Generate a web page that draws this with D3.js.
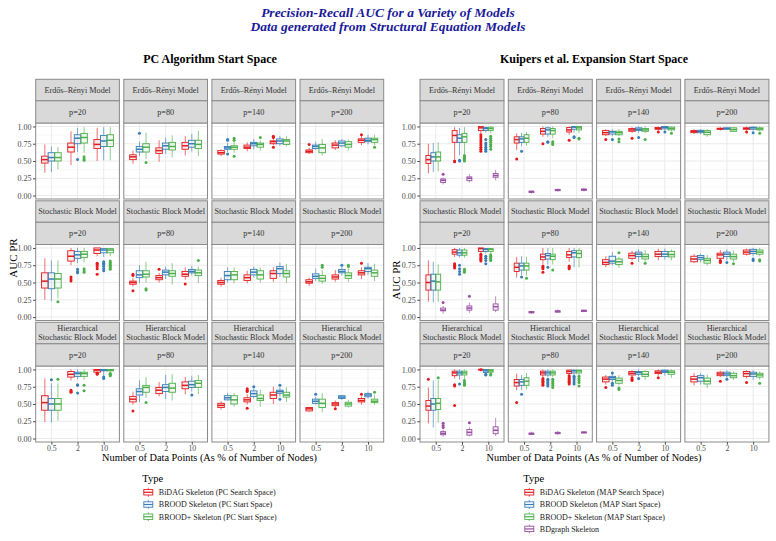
<!DOCTYPE html>
<html>
<head>
<meta charset="utf-8">
<script src="https://cdn.jsdelivr.net/npm/d3@7"></script>
<style>
  body { margin: 0; background: #fff; }
  svg text { font-family: "Liberation Serif", "Times New Roman", serif; }
</style>
</head>
<body>
<div id="chart"></div>
<script>
// ---- data ----
const xLevels = ["0.5", "2", "10"];
const pLevels = [20, 80, 140, 200];
const modelLabels = [["Erdős–Rényi Model"], ["Stochastic Block Model"], ["Hierarchical", "Stochastic Block Model"]];
const colors = ["#E41A1C", "#377EB8", "#4DAF4A", "#984EA3"];

const pcTypes = ["BiDAG Skeleton (PC Search Space)", "BROOD Skeleton (PC Start Space)", "BROOD+ Skeleton (PC Start Space)"];
const kuTypes = ["BiDAG Skeleton (MAP Search Space)", "BROOD Skeleton (MAP Start Space)", "BROOD+ Skeleton (MAP Start Space)", "BDgraph Skeleton"];

// rows: [p, x, type, lower whisker, q1, median, q3, upper whisker, outliers]
const pcER = [
  [20,"0.5",0,.33,.47,.52,.57,.74],[20,"0.5",1,.34,.50,.55,.62,.71],[20,"0.5",2,.38,.50,.55,.62,.70],
  [20,"2",0,.44,.63,.70,.76,.93],[20,"2",1,.63,.75,.83,.88,.98,[.52]],[20,"2",2,.62,.76,.84,.90,.99,[.56,.53,.51]],
  [20,"10",0,.50,.68,.74,.81,.98],[20,"10",1,.51,.71,.79,.87,.99],[20,"10",2,.51,.71,.80,.88,.99],
  [80,"0.5",0,.46,.52,.56,.59,.65],[80,"0.5",1,.57,.63,.67,.71,.78,[.90]],[80,"0.5",2,.53,.63,.70,.75,.91,[.48]],
  [80,"2",0,.49,.61,.65,.69,.80],[80,"2",1,.60,.67,.72,.76,.84],[80,"2",2,.55,.66,.71,.77,.87],
  [80,"10",0,.58,.67,.72,.77,.86],[80,"10",1,.64,.70,.75,.80,.89],[80,"10",2,.57,.68,.74,.80,.94],
  [140,"0.5",0,.57,.60,.62,.65,.67],[140,"0.5",1,.63,.67,.69,.71,.76,[.81,.80,.60]],[140,"0.5",2,.62,.67,.70,.72,.78,[.83,.80,.57]],
  [140,"2",0,.64,.68,.70,.73,.77],[140,"2",1,.67,.72,.75,.77,.82],[140,"2",2,.65,.70,.74,.76,.80,[.84]],
  [140,"10",0,.73,.75,.78,.79,.82,[.86,.84,.70]],[140,"10",1,.72,.75,.79,.82,.86],[140,"10",2,.71,.74,.79,.81,.86],
  [200,"0.5",0,.60,.62,.64,.66,.69,[.74]],[200,"0.5",1,.66,.68,.71,.73,.78],[200,"0.5",2,.58,.62,.69,.74,.82],
  [200,"2",0,.66,.69,.73,.76,.80],[200,"2",1,.70,.72,.76,.79,.82],[200,"2",2,.65,.70,.74,.78,.81],
  [200,"10",0,.73,.77,.80,.82,.86,[.88]],[200,"10",1,.74,.78,.80,.83,.88],[200,"10",2,.73,.77,.81,.83,.88,[.70]]
];
const pcSBM = [
  [20,"0.5",0,.25,.42,.52,.64,.85],[20,"0.5",1,.23,.41,.55,.64,.82],[20,"0.5",2,.27,.42,.55,.63,.82,[.22]],
  [20,"2",0,.75,.81,.88,.96,1.0,[.58,.55,.52]],[20,"2",1,.78,.85,.90,.95,1.0,[.69,.66,.64]],[20,"2",2,.79,.86,.91,.95,1.0,[.70,.67,.65]],
  [20,"10",0,.88,.92,.97,1.0,1.0,[.78,.76,.73,.70,.62]],[20,"10",1,.87,.93,.97,.99,1.0,[.80,.78,.76,.73,.70,.67]],[20,"10",2,.88,.93,.97,.99,1.0,[.81,.79,.77,.75,.73,.71,.69]],
  [80,"0.5",0,.44,.475,.50,.52,.57,[.62,.60,.38]],[80,"0.5",1,.49,.57,.61,.67,.75],[80,"0.5",2,.50,.58,.62,.67,.80,[.41,.39]],
  [80,"2",0,.50,.54,.57,.60,.64,[.69]],[80,"2",1,.55,.61,.65,.68,.73],[80,"2",2,.47,.59,.63,.67,.78],
  [80,"10",0,.54,.59,.62,.66,.72,[.48]],[80,"10",1,.60,.64,.66,.69,.74],[80,"10",2,.49,.60,.64,.68,.73,[.82]],
  [140,"0.5",0,.44,.475,.50,.53,.57],[140,"0.5",1,.50,.54,.60,.66,.72],[140,"0.5",2,.49,.54,.61,.66,.72],
  [140,"2",0,.49,.53,.57,.61,.67],[140,"2",1,.57,.61,.65,.69,.73],[140,"2",2,.50,.55,.61,.67,.72],
  [140,"10",0,.51,.56,.63,.67,.72],[140,"10",1,.58,.63,.70,.73,.79],[140,"10",2,.49,.58,.63,.67,.77],
  [200,"0.5",0,.45,.49,.51,.54,.57],[200,"0.5",1,.52,.56,.59,.625,.70],[200,"0.5",2,.48,.52,.56,.60,.68,[.75,.72]],
  [200,"2",0,.51,.55,.58,.61,.68],[200,"2",1,.60,.64,.66,.69,.72,[.75]],[200,"2",2,.51,.56,.60,.64,.70,[.75,.73]],
  [200,"10",0,.55,.61,.64,.67,.72,[.78]],[200,"10",1,.61,.66,.70,.72,.78],[200,"10",2,.52,.59,.64,.68,.77]
];
const pcHSBM = [
  [20,"0.5",0,.24,.41,.52,.62,.87],[20,"0.5",1,.23,.41,.50,.58,.80,[.85]],[20,"0.5",2,.26,.41,.50,.58,.80,[.86]],
  [20,"2",0,.84,.89,.93,.97,1.0,[.70,.68,.67]],[20,"2",1,.86,.90,.94,.96,1.0,[.78,.77,.66]],[20,"2",2,.85,.90,.94,.96,1.0,[.77,.69]],
  [20,"10",0,.94,.96,.99,1.0,1.0,[.95,.94,.93]],[20,"10",1,.91,.98,.99,1.0,1.0,[.89,.87]],[20,"10",2,.95,.98,.99,1.0,1.0,[.94,.93,.92,.91]],
  [80,"0.5",0,.49,.53,.57,.61,.68,[.40]],[80,"0.5",1,.53,.63,.68,.72,.84],[80,"0.5",2,.59,.67,.74,.77,.89,[.52]],
  [80,"2",0,.61,.65,.70,.74,.82],[80,"2",1,.57,.68,.74,.78,.92],[80,"2",2,.55,.67,.73,.80,.93],
  [80,"10",0,.64,.72,.77,.82,.89],[80,"10",1,.68,.74,.78,.83,.91,[.63]],[80,"10",2,.64,.74,.80,.84,.92],
  [140,"0.5",0,.42,.45,.48,.51,.54],[140,"0.5",1,.55,.56,.59,.62,.66],[140,"0.5",2,.46,.50,.56,.62,.66],
  [140,"2",0,.49,.53,.56,.59,.64,[.72,.70,.68,.44]],[140,"2",1,.58,.61,.65,.69,.72,[.75]],[140,"2",2,.46,.55,.58,.63,.71],
  [140,"10",0,.50,.58,.63,.67,.75],[140,"10",1,.61,.655,.68,.70,.74,[.77,.57]],[140,"10",2,.53,.60,.63,.67,.74],
  [200,"0.5",0,.39,.40,.43,.45,.46],[200,"0.5",1,.49,.51,.54,.57,.60,[.64]],[200,"0.5",2,.38,.45,.51,.57,.66],
  [200,"2",0,.45,.475,.50,.52,.55,[.43]],[200,"2",1,.56,.58,.60,.62,.63],[200,"2",2,.45,.47,.50,.525,.56],
  [200,"10",0,.49,.53,.55,.58,.61,[.64]],[200,"10",1,.58,.605,.63,.65,.68],[200,"10",2,.49,.52,.54,.57,.63,[.67]]
];

const kuER = [
  [20,"0.5",0,.32,.465,.52,.58,.75],[20,"0.5",1,.34,.50,.56,.62,.76],[20,"0.5",2,.35,.50,.56,.63,.77],[20,"0.5",3,.16,.19,.22,.24,.26,[.31]],
  [20,"2",0,.52,.77,.87,.94,.99,[.50,.49]],[20,"2",1,.58,.77,.83,.88,.98,[.51,.50]],[20,"2",2,.60,.77,.85,.90,.99,[.58,.56,.54,.52,.50]],[20,"2",3,.19,.215,.25,.27,.31],
  [20,"10",0,.90,.94,.98,1.0,1.0,[.88,.85,.82,.79,.76,.73,.70,.67,.64]],[20,"10",1,.91,.94,.97,.985,1.0,[.81,.76,.73,.70,.67,.64]],[20,"10",2,.90,.94,.97,.99,1.0,[.86,.83,.80,.77,.74,.71,.67]],[20,"10",3,.22,.265,.29,.32,.37],
  [80,"0.5",0,.66,.76,.81,.85,.90,[.53]],[80,"0.5",1,.71,.77,.82,.85,.91,[.64]],[80,"0.5",2,.72,.77,.83,.88,.92],[80,"0.5",3,.03,.045,.055,.065,.07],
  [80,"2",0,.85,.89,.93,.97,1.0,[.75]],[80,"2",1,.85,.89,.95,.98,1.0,[.78,.77]],[80,"2",2,.83,.89,.94,.97,1.0,[.78,.76,.74]],[80,"2",3,.06,.07,.08,.09,.10],
  [80,"10",0,.88,.92,.95,.985,1.0,[.80]],[80,"10",1,.91,.96,.99,1.0,1.0,[.85,.84]],[80,"10",2,.90,.95,.98,1.0,1.0,[.83,.82]],[80,"10",3,.06,.075,.085,.095,.11],
  [140,"0.5",0,.86,.88,.91,.94,.96,[.81]],[140,"0.5",1,.86,.89,.92,.93,.96,[.81]],[140,"0.5",2,.86,.88,.91,.93,.96,[.82,.78]],
  [140,"2",0,.91,.93,.95,.97,.99,[.83]],[140,"2",1,.91,.94,.96,.98,1.0,[.84]],[140,"2",2,.90,.93,.95,.97,1.0,[.81]],
  [140,"10",0,.94,.96,.97,.985,1.0,[.92]],[140,"10",1,.94,.965,.985,1.0,1.0,[.92]],[140,"10",2,.93,.95,.97,.99,1.0,[.90]],
  [200,"0.5",0,.89,.91,.925,.94,.96],[200,"0.5",1,.89,.91,.93,.945,.96],[200,"0.5",2,.85,.88,.915,.94,.96],
  [200,"2",0,.94,.96,.965,.975,.99],[200,"2",1,.95,.96,.97,.98,.99],[200,"2",2,.92,.93,.955,.98,.99],
  [200,"10",0,.94,.96,.97,.98,1.0,[.92]],[200,"10",1,.94,.96,.98,.99,1.0,[.91]],[200,"10",2,.93,.95,.965,.98,1.0,[.90]]
];
const kuSBM = [
  [20,"0.5",0,.22,.39,.50,.61,.82],[20,"0.5",1,.21,.39,.52,.62,.80],[20,"0.5",2,.22,.39,.51,.62,.76],[20,"0.5",3,.05,.09,.10,.13,.16,[.21]],
  [20,"2",0,.87,.91,.94,.975,1.0,[.77,.75,.73,.71]],[20,"2",1,.86,.895,.93,.97,1.0,[.75,.70,.66,.62]],[20,"2",2,.86,.895,.93,.97,1.0,[.69,.67,.65]],[20,"2",3,.06,.10,.13,.16,.21,[.30]],
  [20,"10",0,.93,.95,.99,1.0,1.0,[.91,.89,.87,.85,.83,.81]],[20,"10",1,.92,.95,.98,.99,1.0,[.88,.85,.82,.77]],[20,"10",2,.92,.95,.98,.99,1.0,[.90,.88,.86,.84,.82]],[20,"10",3,.07,.10,.15,.19,.30],
  [80,"0.5",0,.57,.66,.72,.78,.87],[80,"0.5",1,.61,.68,.74,.78,.88,[.58]],[80,"0.5",2,.60,.68,.74,.78,.87,[.56]],[80,"0.5",3,.05,.06,.07,.08,.09],
  [80,"2",0,.77,.83,.87,.91,1.0,[.74,.72,.70,.65]],[80,"2",1,.76,.84,.89,.92,1.0,[.72]],[80,"2",2,.76,.83,.88,.91,1.0,[.68]],[80,"2",3,.06,.07,.085,.09,.11],
  [80,"10",0,.80,.86,.90,.95,1.0,[.74,.72,.70]],[80,"10",1,.72,.87,.93,.96,1.0],[80,"10",2,.72,.86,.92,.96,1.0],[80,"10",3,.07,.08,.09,.10,.11],
  [140,"0.5",0,.72,.76,.79,.83,.88],[140,"0.5",1,.75,.78,.81,.88,.94],[140,"0.5",2,.71,.76,.80,.84,.87,[.93]],
  [140,"2",0,.82,.85,.89,.925,.96,[.78]],[140,"2",1,.80,.875,.91,.94,.98],[140,"2",2,.80,.84,.875,.91,.97,[.78]],
  [140,"10",0,.82,.875,.91,.95,.99],[140,"10",1,.83,.875,.91,.95,.99],[140,"10",2,.82,.87,.905,.95,.98],
  [200,"0.5",0,.78,.80,.84,.88,.91],[200,"0.5",1,.79,.83,.86,.89,.92],[200,"0.5",2,.75,.78,.82,.85,.90],
  [200,"2",0,.83,.85,.90,.925,.97,[.82,.80,.79]],[200,"2",1,.82,.875,.91,.94,.98,[.79]],[200,"2",2,.80,.84,.875,.91,.96,[.77]],
  [200,"10",0,.89,.91,.94,.97,.99],[200,"10",1,.88,.92,.95,.98,1.0,[.84,.82]],[200,"10",2,.88,.91,.94,.97,1.0,[.83,.81]]
];
const kuHSBM = [
  [20,"0.5",0,.22,.41,.47,.55,.74,[.86]],[20,"0.5",1,.16,.41,.50,.58,.84],[20,"0.5",2,.23,.42,.51,.58,.85,[.88]],[20,"0.5",3,.03,.055,.075,.10,.13,[.22,.19,.16]],
  [20,"2",0,.87,.91,.95,.975,1.0,[.78,.76,.48]],[20,"2",1,.85,.92,.95,.975,1.0,[.79]],[20,"2",2,.86,.92,.95,.975,1.0,[.84,.81,.79,.77]],[20,"2",3,.03,.05,.09,.13,.17,[.23]],
  [20,"10",0,.99,1.0,1.0,1.0,1.0,[.995]],[20,"10",1,.94,.955,.98,1.0,1.0,[.93,.92]],[20,"10",2,.94,.96,.98,1.0,1.0,[.93,.92]],[20,"10",3,.04,.07,.12,.17,.30],
  [80,"0.5",0,.70,.76,.81,.855,.94,[.52]],[80,"0.5",1,.70,.77,.82,.855,.92,[.64]],[80,"0.5",2,.71,.77,.83,.88,.95],[80,"0.5",3,.05,.06,.07,.08,.10],
  [80,"2",0,.89,.92,.95,.975,1.0,[.87,.85,.83,.81,.79,.77]],[80,"2",1,.89,.92,.95,.975,1.0,[.86,.84,.81,.79,.76]],[80,"2",2,.89,.92,.95,.975,1.0,[.86,.83,.80,.77,.74]],[80,"2",3,.05,.07,.08,.09,.11],
  [80,"10",0,.92,.94,.97,.99,1.0,[.91,.89,.87,.85,.83,.81,.79]],[80,"10",1,.92,.95,.98,.99,1.0,[.90,.88,.85,.82,.79]],[80,"10",2,.92,.95,.98,.99,1.0,[.90,.87,.84,.81,.76]],[80,"10",3,.07,.08,.09,.095,.10],
  [140,"0.5",0,.78,.82,.86,.89,.92,[.74]],[140,"0.5",1,.82,.855,.88,.90,.93,[.95,.80,.77]],[140,"0.5",2,.77,.80,.84,.875,.92,[.73,.71]],
  [140,"2",0,.90,.92,.945,.97,.99,[.88,.86,.84]],[140,"2",1,.90,.93,.955,.97,1.0,[.87]],[140,"2",2,.85,.90,.93,.97,.99],
  [140,"10",0,.91,.94,.96,.98,1.0,[.88]],[140,"10",1,.91,.955,.975,.99,1.0],[140,"10",2,.88,.93,.96,.98,1.0],
  [200,"0.5",0,.77,.82,.86,.90,.95],[200,"0.5",1,.78,.83,.88,.91,.95],[200,"0.5",2,.73,.79,.83,.875,.93],
  [200,"2",0,.89,.91,.935,.96,.98,[.83]],[200,"2",1,.88,.91,.935,.96,.99,[.86]],[200,"2",2,.85,.88,.91,.945,.97],
  [200,"10",0,.87,.90,.94,.97,.99,[.81]],[200,"10",1,.85,.90,.935,.96,.99],[200,"10",2,.85,.89,.92,.945,.97,[.80]]
];

// ---- layout ----
const width = 776, height = 541;
const rowTop = [79.3, 200.8, 322.3];
const strip1H = 21.5, strip2H = 22.2, plotH = 76;
const borderCol = "#8a8a8a";
const serif = "'Liberation Serif', 'Times New Roman', serif";

const charts = [
  { left: 35.7, step: 88.1, pw: 83.7, title: "PC Algorithm Start Space", titleX: 210,
    ylabX: 13, ylabY: 258, xlabX: 209.5, legendX: 143.3, types: pcTypes, rows: [pcER, pcSBM, pcHSBM] },
  { left: 420, step: 88.3, pw: 84, title: "Kuipers et al. Expansion Start Space", titleX: 594,
    ylabX: 396, ylabY: 280, xlabX: 594, legendX: 524.3, types: kuTypes, rows: [kuER, kuSBM, kuHSBM] }
];

const svg = d3.select("#chart").append("svg")
  .attr("width", width).attr("height", height);

// main title
svg.append("text").attr("x", 388).attr("y", 16.5).attr("text-anchor", "middle")
  .attr("font-size", 13.5).attr("font-weight", "bold").attr("font-style", "italic").attr("fill", "#1a1a9a")
  .text("Precision-Recall AUC for a Variety of Models");
svg.append("text").attr("x", 388).attr("y", 30.5).attr("text-anchor", "middle")
  .attr("font-size", 13.5).attr("font-weight", "bold").attr("font-style", "italic").attr("fill", "#1a1a9a")
  .text("Data generated from Structural Equation Models");

const y = d3.scaleLinear().domain([-0.05, 1.05]).range([plotH, 0]);
const yMajor = [0, 0.25, 0.5, 0.75, 1];
const yMinor = [0.125, 0.375, 0.625, 0.875];

charts.forEach(ch => {
  const g = svg.append("g");

  g.append("text").attr("x", ch.titleX).attr("y", 63).attr("text-anchor", "middle")
    .attr("font-size", 12).attr("font-weight", "bold").attr("fill", "#000").text(ch.title);

  const xp = d3.scalePoint().domain(xLevels).range([0, ch.pw]).padding(0.6);
  const dodgeW = xp.step() * 0.75;

  ch.rows.forEach((data, r) => {
    pLevels.forEach((p, c) => {
      const px = ch.left + c * ch.step;
      const top = rowTop[r];
      const pTop = top + strip1H + strip2H;
      const panel = g.append("g").attr("transform", `translate(${px},${pTop})`);

      // strips
      g.append("rect").attr("x", px).attr("y", top).attr("width", ch.pw).attr("height", strip1H)
        .attr("fill", "#D9D9D9").attr("stroke", borderCol).attr("stroke-width", 1);
      g.append("rect").attr("x", px).attr("y", top + strip1H).attr("width", ch.pw).attr("height", strip2H)
        .attr("fill", "#D9D9D9").attr("stroke", borderCol).attr("stroke-width", 1);
      const lines = modelLabels[r];
      lines.forEach((ln, i) => {
        g.append("text").attr("x", px + ch.pw / 2)
          .attr("y", top + strip1H / 2 + (i - (lines.length - 1) / 2) * 9)
          .attr("dy", "0.35em").attr("text-anchor", "middle").attr("font-size", 8.2).attr("fill", "#333")
          .text(ln);
      });
      g.append("text").attr("x", px + ch.pw / 2).attr("y", top + strip1H + strip2H / 2)
        .attr("dy", "0.35em").attr("text-anchor", "middle").attr("font-size", 8.2).attr("fill", "#333")
        .text("p=" + p);

      // grid
      panel.selectAll(".minor").data(yMinor).enter().append("line")
        .attr("x1", 0).attr("x2", ch.pw).attr("y1", d => y(d)).attr("y2", d => y(d))
        .attr("stroke", "#F4F4F4").attr("stroke-width", 0.6);
      panel.selectAll(".major").data(yMajor).enter().append("line")
        .attr("x1", 0).attr("x2", ch.pw).attr("y1", d => y(d)).attr("y2", d => y(d))
        .attr("stroke", "#EBEBEB").attr("stroke-width", 1);
      panel.selectAll(".vmajor").data(xLevels).enter().append("line")
        .attr("x1", d => xp(d)).attr("x2", d => xp(d)).attr("y1", 0).attr("y2", plotH)
        .attr("stroke", "#EBEBEB").attr("stroke-width", 1);

      // boxes
      const rows = data.filter(d => d[0] === p);
      xLevels.forEach(xv => {
        const grp = rows.filter(d => d[1] === xv);
        const dodge = d3.scaleBand().domain(grp.map(d => d[2]))
          .range([xp(xv) - dodgeW / 2, xp(xv) + dodgeW / 2]);
        grp.forEach(d => {
          const [, , t, lo, q1, med, q3, hi, outs] = d;
          const col = colors[t];
          const x0 = dodge(t), bw = dodge.bandwidth(), cx = x0 + bw / 2;
          const b = panel.append("g");
          b.append("line").attr("x1", cx).attr("x2", cx).attr("y1", y(hi)).attr("y2", y(q3))
            .attr("stroke", col).attr("stroke-opacity", 0.7).attr("stroke-width", 0.9);
          b.append("line").attr("x1", cx).attr("x2", cx).attr("y1", y(q1)).attr("y2", y(lo))
            .attr("stroke", col).attr("stroke-opacity", 0.7).attr("stroke-width", 0.9);
          b.append("rect").attr("x", x0).attr("y", y(q3)).attr("width", bw)
            .attr("height", Math.max(0.5, y(q1) - y(q3)))
            .attr("fill", col).attr("fill-opacity", 0.08)
            .attr("stroke", col).attr("stroke-width", 0.9);
          b.append("line").attr("x1", x0).attr("x2", x0 + bw).attr("y1", y(med)).attr("y2", y(med))
            .attr("stroke", col).attr("stroke-width", 1.5);
          (outs || []).forEach(o => {
            b.append("circle").attr("cx", cx).attr("cy", y(o)).attr("r", 1.5).attr("fill", col);
          });
        });
      });

      // panel border
      panel.append("rect").attr("x", 0).attr("y", 0).attr("width", ch.pw).attr("height", plotH)
        .attr("fill", "none").attr("stroke", borderCol).attr("stroke-width", 1);

      // y axis on first column
      if (c === 0) {
        const ya = panel.append("g").call(d3.axisLeft(y).tickValues(yMajor).tickFormat(d3.format(".2f")).tickSize(2.7).tickPadding(1.5));
        ya.attr("font-family", serif);
        ya.select(".domain").remove();
        ya.selectAll("line").attr("stroke", "#4d4d4d");
        ya.selectAll("text").attr("font-size", 8).style("fill", "#4d4d4d");
      }
      // x axis on bottom row
      if (r === 2) {
        const xa = panel.append("g").attr("transform", `translate(0,${plotH})`)
          .call(d3.axisBottom(xp).tickSize(2.7).tickPadding(0.8));
        xa.attr("font-family", serif);
        xa.select(".domain").remove();
        xa.selectAll("line").attr("stroke", "#4d4d4d");
        xa.selectAll("text").attr("font-size", 7.8).style("fill", "#4d4d4d");
      }
    });
  });

  // axis titles
  g.append("text").attr("transform", `translate(${ch.ylabX},${ch.ylabY}) rotate(-90)`)
    .attr("text-anchor", "middle").attr("dy", "0.35em").attr("font-size", 11).text("AUC PR");
  g.append("text").attr("x", ch.xlabX).attr("y", 460.8).attr("text-anchor", "middle")
    .attr("font-size", 10.3).text("Number of Data Points (As % of Number of Nodes)");

  // legend
  const lg = g.append("g").attr("transform", `translate(${ch.legendX},0)`);
  lg.append("text").attr("x", -1).attr("y", 482).attr("font-size", 10.5).text("Type");
  ch.types.forEach((tname, i) => {
    const ky = 492.3 + i * 12.2;
    const col = colors[i];
    const k = lg.append("g").attr("transform", `translate(0,${ky - 5})`);
    k.append("line").attr("x1", 5).attr("x2", 5).attr("y1", 0.5).attr("y2", 9.5).attr("stroke", col).attr("stroke-opacity", 0.7);
    k.append("rect").attr("x", 0.5).attr("y", 2.3).attr("width", 9).attr("height", 5.4)
      .attr("fill", "#fff").attr("stroke", col).attr("stroke-width", 0.9);
    k.append("line").attr("x1", 0.5).attr("x2", 9.5).attr("y1", 5).attr("y2", 5).attr("stroke", col).attr("stroke-width", 1.2);
    lg.append("text").attr("x", 15.5).attr("y", ky).attr("dy", "0.35em").attr("font-size", 8).attr("fill", "#1a1a1a").text(tname);
  });
});
</script>
</body>
</html>
